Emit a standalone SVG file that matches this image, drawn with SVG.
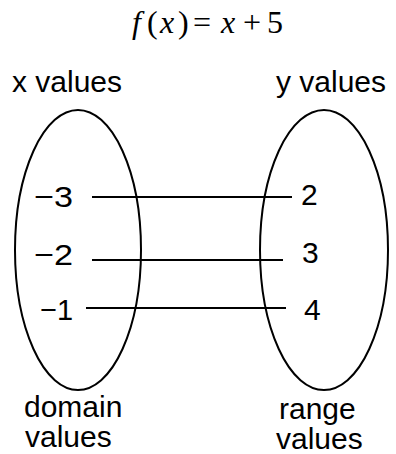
<svg xmlns="http://www.w3.org/2000/svg" width="396" height="454" viewBox="0 0 396 454">
<style>
.lbl{font-family:"Liberation Sans",Arial,sans-serif;font-size:30px;fill:#000}
.num{font-family:"Liberation Sans",Arial,sans-serif;font-size:30px;fill:#000}
.math{font-family:"Liberation Serif","Times New Roman",serif;font-size:32px;fill:#000}
.it{font-style:italic}
.set{fill:none;stroke:#000;stroke-width:2}
.conn line{stroke:#000;stroke-width:2}
</style>
<rect width="396" height="454" fill="#fff"/>
<g id="title">
<text class="math" y="33"><tspan class="it" x="132">f</tspan><tspan x="147">(</tspan><tspan class="it" x="160">x</tspan><tspan x="178">)</tspan><tspan x="193">=</tspan><tspan class="it" x="221">x</tspan><tspan x="243">+</tspan><tspan x="267">5</tspan></text>
</g>
<g id="domain">
<ellipse class="set" cx="78" cy="250" rx="63" ry="140"/>
<text class="lbl" x="12" y="92">x values</text>
<text class="lbl" x="24" y="417">domain</text>
<text class="lbl" x="25" y="447">values</text>
</g>
<g id="range">
<ellipse class="set" cx="324" cy="250" rx="64" ry="140"/>
<text class="lbl" x="276" y="92">y values</text>
<text class="lbl" x="279" y="419">range</text>
<text class="lbl" x="276" y="449">values</text>
</g>
<g id="x-3"><text class="num" x="34" y="207" textLength="39" lengthAdjust="spacingAndGlyphs">−3</text></g>
<g id="x-2"><text class="num" x="34" y="265" textLength="39" lengthAdjust="spacingAndGlyphs">−2</text></g>
<g id="x-1"><text class="num" x="40" y="320" textLength="33" lengthAdjust="spacingAndGlyphs">−1</text></g>
<g id="y2"><text class="num" x="301" y="205">2</text></g>
<g id="y3"><text class="num" x="302" y="263">3</text></g>
<g id="y4"><text class="num" x="304" y="320">4</text></g>
<g id="connectors" class="conn">
<line x1="92" y1="197" x2="292" y2="197"/>
<line x1="92" y1="260" x2="283" y2="260"/>
<line x1="86" y1="308" x2="286" y2="308"/>
</g>
</svg>
